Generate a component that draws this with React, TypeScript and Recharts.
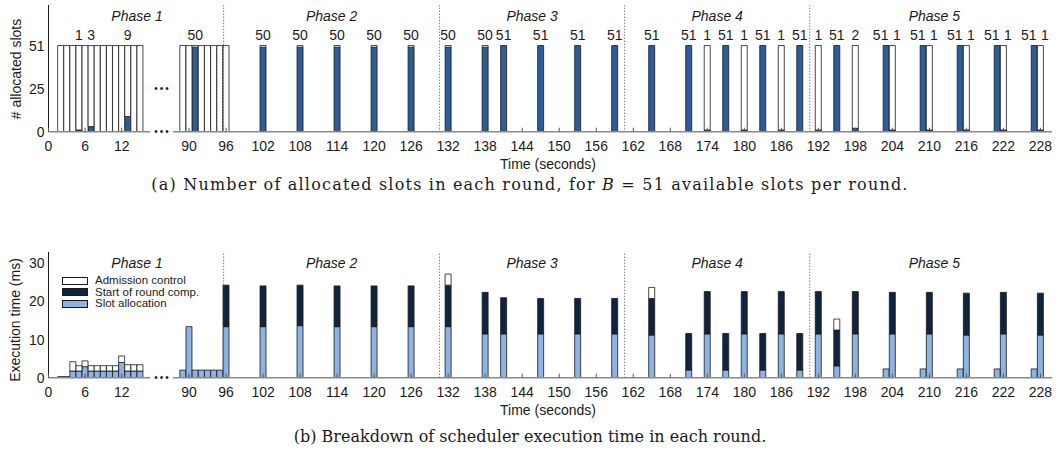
import React from 'react';
import { BarChart, Bar, XAxis, YAxis, ReferenceLine, LabelList, Legend } from 'recharts';

const SANS = '"Liberation Sans", Arial, sans-serif';
const SERIF = '"DejaVu Serif", serif';
const INK = '#1a1a1a';
const BLUE = '#2e5c96';
const NAVY = '#10233f';
const LIGHT = '#8db3e2';
const AXIS_GREY = '#8a8a8a';

const SLOTS = 51;

// phase 1, first seconds (left of the axis break)
const earlyTimes = [2, 3, 4, 5, 6, 7, 8, 9, 10, 11, 12, 13, 14, 15];
const earlyAllocated = [0, 0, 0, 1, 0, 3, 0, 0, 0, 0, 0, 9, 0, 0];
const earlySlotMs = [0.1, 0.1, 1.75, 1.75, 2.9, 1.75, 1.75, 1.75, 1.75, 1.75, 4.0, 1.75, 1.75, 1.75];
const earlyStartMs = [0.15, 0.15, 0, 0, 0, 0, 0, 0, 0, 0, 0, 0, 0, 0];
const earlyAdmissionMs = [0, 0, 2.45, 1.4, 1.5, 1.4, 1.4, 1.4, 1.4, 1.4, 1.7, 1.65, 1.65, 1.65];

// everything after the break
const lateTimes = [
  89, 90, 91, 92, 93, 94, 95, 96,
  102, 108, 114, 120, 126, 132,
  138, 141, 147, 153, 159,
  165, 171, 174, 177, 180, 183, 186, 189,
  192, 195, 198,
  203, 204, 209, 210, 215, 216, 221, 222, 227, 228,
];
const lateAllocated = [
  0, 0, 50, 0, 0, 0, 0, 0,
  50, 50, 50, 50, 50, 50,
  50, 51, 51, 51, 51,
  51, 51, 1, 51, 1, 51, 1, 51,
  1, 51, 2,
  51, 1, 51, 1, 51, 1, 51, 1, 51, 1,
];
const lateSlotMs = [
  2.0, 13.4, 2.0, 2.0, 2.0, 2.0, 2.0, 13.4,
  13.4, 13.65, 13.4, 13.4, 13.4, 13.4,
  11.5, 11.5, 11.5, 11.5, 11.5,
  11.2, 2.0, 11.5, 2.0, 11.5, 2.0, 11.5, 2.0,
  11.5, 3.1, 11.5,
  2.3, 11.5, 2.3, 11.5, 2.3, 11.2, 2.3, 11.5, 2.3, 11.2,
];
const lateStartMs = [
  0, 0, 0, 0, 0, 0, 0, 10.9,
  10.7, 10.65, 10.7, 10.7, 10.7, 10.9,
  10.9, 9.5, 9.3, 9.3, 9.3,
  9.6, 9.6, 11.1, 9.6, 11.1, 9.6, 11.1, 9.6,
  11.1, 9.4, 11.1,
  0, 10.9, 0, 10.9, 0, 11.0, 0, 10.9, 0, 11.0,
];
const lateAdmissionMs = [
  0, 0, 0, 0, 0, 0, 0, 0,
  0, 0, 0, 0, 0, 2.9,
  0, 0, 0, 0, 0,
  2.9, 0, 0, 0, 0, 0, 0, 0,
  0, 2.9, 0,
  0, 0, 0, 0, 0, 0, 0, 0, 0, 0,
];

const earlyTicks = [0, 6, 12];
const lateTicks = [90, 96, 102, 108, 114, 120, 126, 132, 138, 144, 150, 156, 162, 168, 174, 180, 186, 192, 198, 204, 210, 216, 222, 228];
const phaseBounds = [95.6, 130.6, 160.6, 190.6];
const phaseNames = ['Phase 1', 'Phase 2', 'Phase 3', 'Phase 4', 'Phase 5'];
const lastPhaseEnd = 231;

const bottomSeries = [
  { key: 'slot', name: 'Slot allocation', color: LIGHT },
  { key: 'start', name: 'Start of round comp.', color: NAVY },
  { key: 'admission', name: 'Admission control', color: '#ffffff' },
];

// geometry of the two halves of the broken axis
const Y_AXIS_W = 48.5;
const LEFT_W = 150;
const LEFT_PX_PER_S = 6.1;
const LEFT_DOMAIN = [0, (LEFT_W - Y_AXIS_W) / LEFT_PX_PER_S];
const RIGHT_X = 173;
const RIGHT_W = 879;
const PX_PER_S = 6.17;
const RIGHT_DOMAIN = [87.4, 87.4 + RIGHT_W / PX_PER_S];
const TICK_MARGIN = 9;
const BAR_W = 6;

const rightPx = (t: number) => RIGHT_X + (t - RIGHT_DOMAIN[0]) * PX_PER_S;

const slotRows = (times: number[], alloc: number[]) =>
  times.map((t, i) => ({ t, allocated: alloc[i], free: SLOTS - alloc[i] }));
const timeRows = (times: number[], slot: number[], start: number[], adm: number[]) =>
  times.map((t, i) => ({ t, slot: slot[i], start: start[i], admission: adm[i] }));

const topEarly = slotRows(earlyTimes, earlyAllocated);
const topLate = slotRows(lateTimes, lateAllocated);
const bottomEarly = timeRows(earlyTimes, earlySlotMs, earlyStartMs, earlyAdmissionMs);
const bottomLate = timeRows(lateTimes, lateSlotMs, lateStartMs, lateAdmissionMs);

function TimeTick(props: any) {
  const { x, y, payload } = props;
  const base = y - TICK_MARGIN;
  return (
    <g>
      <line x1={x} x2={x} y1={base} y2={base - 4} stroke="#555" strokeWidth={1} />
      <text x={x} y={y} dy="0.71em" textAnchor="middle" fontSize={14} fontFamily={SANS} fill={INK}>
        {payload.value}
      </text>
    </g>
  );
}

// count above each round, drawn over the full 51-slot outline.
// label value is the round time; neighbours one second apart push their labels apart
function slotLabel(times: number[], alloc: number[]) {
  const indexOf = new Map(times.map((t, i) => [t, i]));
  return (props: any) => {
    const vb = props.viewBox ?? props;
    const i = indexOf.get(props.value);
    if (i == null) return null;
    const v = alloc[i];
    const h = Math.abs(vb.height);
    if (!v || !h) return null;
    const bottom = Math.max(vb.y, vb.y + vb.height);
    const top = bottom - (SLOTS * h) / v;
    let shift = 0;
    if (i > 0 && alloc[i - 1] > 0 && times[i] - times[i - 1] < 1.5) shift += 4.5;
    if (i < times.length - 1 && alloc[i + 1] > 0 && times[i + 1] - times[i] < 1.5) shift -= 5.5;
    return (
      <text x={vb.x + vb.width / 2 + shift} y={top - 6} textAnchor="middle" fontSize={14} fontFamily={SANS} fill={INK}>
        {v}
      </text>
    );
  };
}

const renderLegend = () => (
  <div style={{ fontFamily: SANS, fontSize: 11.5, color: INK }}>
    {[...bottomSeries].reverse().map((s) => (
      <div key={s.key} style={{ display: 'flex', alignItems: 'center', height: 11.5 }}>
        <span style={{ width: 24, height: 6, border: `1px solid ${INK}`, background: s.color, marginRight: 7, flex: 'none' }} />
        <span style={{ lineHeight: '11px', whiteSpace: 'nowrap' }}>{s.name}</span>
      </div>
    ))}
  </div>
);

const At = ({ x, y, children, style }: any) => (
  <div style={{ position: 'absolute', left: x, top: y, transform: 'translate(-50%, -50%)', whiteSpace: 'nowrap', ...style }}>
    {children}
  </div>
);

const Dots = ({ x, y }: any) => (
  <At x={x} y={y} style={{ fontFamily: SANS, fontSize: 10, letterSpacing: 2, color: INK, lineHeight: '10px' }}>•••</At>
);

const xAxisProps = {
  type: 'number' as const,
  dataKey: 't',
  allowDataOverflow: true,
  interval: 0 as const,
  tickLine: false,
  tickSize: 0,
  tickMargin: TICK_MARGIN,
  tick: <TimeTick />,
  axisLine: { stroke: AXIS_GREY, strokeWidth: 1.5 },
  height: 28,
};

const yTick = { fontSize: 14, fill: INK, fontFamily: SANS };

function SlotsPanel() {
  const h = 154.7;
  const bars = (times: number[], alloc: number[]) => [
    <Bar key="a" dataKey="allocated" stackId="s" fill={BLUE} stroke={INK} strokeWidth={0.8} barSize={BAR_W} isAnimationActive={false}>
      <LabelList dataKey="t" content={slotLabel(times, alloc)} />
    </Bar>,
    <Bar key="f" dataKey="free" stackId="s" fill="#ffffff" stroke={INK} strokeWidth={0.8} barSize={BAR_W} isAnimationActive={false} />,
  ];
  return (
    <>
      <div style={{ position: 'absolute', left: 0, top: 5 }}>
        <BarChart width={LEFT_W} height={h} data={topEarly} margin={{ top: 0, right: 0, bottom: 0, left: 0 }}>
          <XAxis {...xAxisProps} domain={LEFT_DOMAIN} ticks={earlyTicks} />
          <YAxis domain={[0, 75]} ticks={[0, 25, 51]} interval={0} width={Y_AXIS_W} tickLine={false} tickSize={0} tickMargin={4}
            axisLine={{ stroke: INK }} tick={yTick} allowDataOverflow />
          {bars(earlyTimes, earlyAllocated)}
        </BarChart>
      </div>
      <div style={{ position: 'absolute', left: RIGHT_X, top: 5 }}>
        <BarChart width={RIGHT_W} height={h} data={topLate} margin={{ top: 0, right: 0, bottom: 0, left: 0 }}>
          <XAxis {...xAxisProps} domain={RIGHT_DOMAIN} ticks={lateTicks} />
          <YAxis hide domain={[0, 75]} allowDataOverflow />
          {phaseBounds.map((b) => (
            <ReferenceLine key={b} x={b} stroke="#444" strokeDasharray="1 2" />
          ))}
          {bars(lateTimes, lateAllocated)}
        </BarChart>
      </div>
    </>
  );
}

function TimePanel() {
  const top = 252;
  const h = 153.7;
  const bars = bottomSeries.map((s) => (
    <Bar key={s.key} dataKey={s.key} name={s.name} stackId="m" fill={s.color} stroke={INK} strokeWidth={0.8} barSize={BAR_W} isAnimationActive={false} />
  ));
  return (
    <>
      <div style={{ position: 'absolute', left: 0, top }}>
        <BarChart width={LEFT_W} height={h} data={bottomEarly} margin={{ top: 0, right: 0, bottom: 0, left: 0 }}>
          <XAxis {...xAxisProps} domain={LEFT_DOMAIN} ticks={earlyTicks} />
          <YAxis domain={[0, 33]} ticks={[0, 10, 20, 30]} interval={0} width={Y_AXIS_W} tickLine={false} tickSize={0} tickMargin={4}
            axisLine={{ stroke: INK }} tick={yTick} allowDataOverflow />
          <Legend layout="vertical" align="center" verticalAlign="middle" wrapperStyle={{ top: 23, left: 62, width: 170 }} content={renderLegend} />
          {bars}
        </BarChart>
      </div>
      <div style={{ position: 'absolute', left: RIGHT_X, top }}>
        <BarChart width={RIGHT_W} height={h} data={bottomLate} margin={{ top: 0, right: 0, bottom: 0, left: 0 }}>
          <XAxis {...xAxisProps} domain={RIGHT_DOMAIN} ticks={lateTicks} />
          <YAxis hide domain={[0, 33]} allowDataOverflow />
          {phaseBounds.map((b) => (
            <ReferenceLine key={b} x={b} stroke="#444" strokeDasharray="1 2" />
          ))}
          {bars}
        </BarChart>
      </div>
    </>
  );
}

function PhaseTitles({ y }: { y: number }) {
  const edges = [...phaseBounds, lastPhaseEnd];
  return (
    <>
      {phaseNames.map((name, i) => {
        const x = i === 0 ? 137 : rightPx((edges[i - 1] + edges[i]) / 2);
        return (
          <At key={name} x={x} y={y} style={{ fontFamily: SANS, fontSize: 14, fontStyle: 'italic', color: INK }}>
            {name}
          </At>
        );
      })}
    </>
  );
}

export default function App() {
  const label = { fontFamily: SANS, fontSize: 14, color: INK };
  const caption = { fontFamily: SERIF, fontSize: 16, color: INK };
  return (
    <div style={{ position: 'relative', width: 1060, height: 457, background: '#fff', overflow: 'hidden' }}>
      <style>{'body{margin:0}'}</style>
      <SlotsPanel />
      <TimePanel />
      <PhaseTitles y={15.7} />
      <PhaseTitles y={262.7} />
      <Dots x={162.5} y={89.3} />
      <Dots x={162.5} y={131.7} />
      <Dots x={162.5} y={377.7} />
      <At x={15.5} y={68.5} style={{ ...label, transform: 'translate(-50%, -50%) rotate(-90deg)' }}># allocated slots</At>
      <At x={15} y={320} style={{ ...label, transform: 'translate(-50%, -50%) rotate(-90deg)' }}>Execution time (ms)</At>
      <At x={548} y={164} style={label}>Time (seconds)</At>
      <At x={548} y={410} style={label}>Time (seconds)</At>
      <At x={530} y={184} style={{ ...caption, letterSpacing: 1.2 }}>
        (a) Number of allocated slots in each round, for <i>B</i> = 51 available slots per round.
      </At>
      <At x={530} y={436} style={caption}>
        (b) Breakdown of scheduler execution time in each round.
      </At>
    </div>
  );
}
